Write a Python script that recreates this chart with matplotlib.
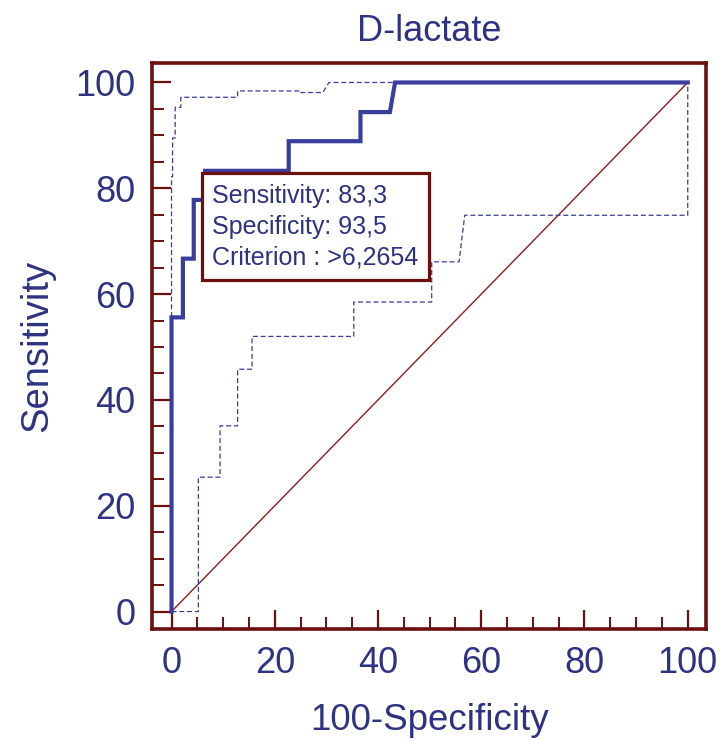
import matplotlib
matplotlib.use("Agg")
import matplotlib.pyplot as plt
from matplotlib.ticker import MultipleLocator

plt.rcParams['font.family'] = ['Liberation Sans', 'DejaVu Sans']

# ROC curve (100-Specificity, Sensitivity) vertices
roc_x = [0, 0, 2.2, 2.2, 4.3, 4.3, 6.5, 6.5, 22.7, 22.7, 36.6, 36.6, 42.3, 43.3, 100]
roc_y = [0, 55.6, 55.6, 66.7, 66.7, 77.8, 77.8, 83.3, 83.3, 88.9, 88.9, 94.4, 94.4, 100, 100]

# upper / lower 95% confidence bounds
upper_x = [0, 0, 0.2, 0.2, 0.7, 0.7, 1.8, 1.8, 12.8, 12.8, 24.8, 24.8, 29.3, 30.5, 100]
upper_y = [0, 82.2, 82.2, 89.5, 89.5, 95.3, 95.3, 97.2, 97.2, 98.4, 98.4, 98.1, 98.1, 100, 100]
lower_x = [0, 5.2, 5.2, 9.4, 9.4, 12.8, 12.8, 15.6, 15.6, 35.3, 35.3, 50.4, 50.4, 55.7, 56.8, 100, 100]
lower_y = [0, 0, 25.4, 25.4, 35.1, 35.1, 45.8, 45.8, 52.0, 52.0, 58.5, 58.5, 66.1, 66.1, 74.9, 74.9, 100]

box_lines = ["Sensitivity: 83,3", "Specificity: 93,5", "Criterion : >6,2654"]

frame = '#6b0f0f'
navy = '#2d3282'
blue = '#383d9e'

fig = plt.figure(figsize=(7.2, 7.4), dpi=100)
ax = fig.add_axes([0.211, 0.150, 0.770, 0.765])

ax.plot([0, 100], [0, 100], color='#8c1c1c', lw=1.0, zorder=2)
ax.plot(upper_x, upper_y, color=blue, lw=0.9, dashes=(4, 2.2), zorder=3)
ax.plot(lower_x, lower_y, color=blue, lw=0.9, dashes=(4, 2.2), zorder=3)
ax.plot(roc_x, roc_y, color=blue, lw=3.0, zorder=4, solid_joinstyle='miter')

ax.text(7.9, 80.9, "\n".join(box_lines), fontsize=18, color=navy,
        ha='left', va='top', linespacing=1.37, zorder=6,
        bbox=dict(boxstyle='square,pad=0.42', fc='white', ec=frame, lw=2.3))

ax.set_xlim(-3.8, 103.6)
ax.set_ylim(-3.3, 103.7)
ax.xaxis.set_major_locator(MultipleLocator(20))
ax.yaxis.set_major_locator(MultipleLocator(20))
ax.xaxis.set_minor_locator(MultipleLocator(5))
ax.yaxis.set_minor_locator(MultipleLocator(5))

for s in ax.spines.values():
    s.set_color(frame)
    s.set_linewidth(2.6)

ax.tick_params(which='major', direction='in', length=14, width=1.6, color=frame,
               labelsize=26, labelcolor=navy, pad=12)
ax.tick_params(which='minor', direction='in', length=8.5, width=1.4, color=frame)

ax.set_title("D-lactate", fontsize=26, color=navy, pad=16)
ax.set_xlabel("100-Specificity", fontsize=26.5, color=navy, labelpad=16)
ax.set_ylabel("Sensitivity", fontsize=27.5, color=navy, labelpad=14)

fig.savefig("out.png", dpi=100)
